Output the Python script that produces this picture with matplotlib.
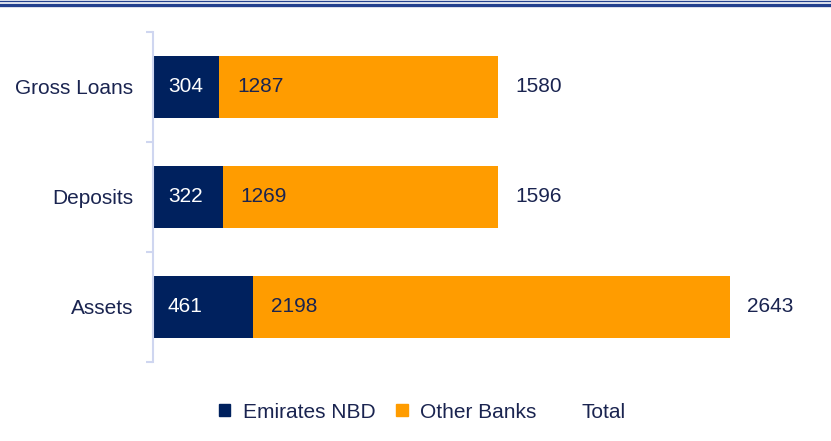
import matplotlib.pyplot as plt
from matplotlib.patches import Patch
from matplotlib.lines import Line2D

categories = ["Gross Loans", "Deposits", "Assets"]
enbd = [304, 322, 461]
other_banks = [1287, 1269, 2198]
total = [1580, 1596, 2643]

navy = "#00215e"
orange = "#ff9c00"
text_col = "#1a2450"
axis_col = "#cfd6f0"

plt.rcParams["font.family"] = ["Liberation Sans", "DejaVu Sans"]

fig = plt.figure(figsize=(8.31, 4.41), dpi=100)
ax = fig.add_axes([153 / 831, 79 / 441, 651 / 831, 330 / 441])

y = list(range(len(categories)))
ax.barh(y, enbd, height=0.56, color=navy)
ax.barh(y, other_banks, left=enbd, height=0.56, color=orange)

fs = 15
for i in y:
    ax.annotate(str(enbd[i]), (0, i), xytext=(15, 0), textcoords="offset pixels",
                va="center", ha="left", color="white", fontsize=fs)
    ax.annotate(str(other_banks[i]), (enbd[i], i), xytext=(18, 0), textcoords="offset pixels",
                va="center", ha="left", color=text_col, fontsize=fs)
    ax.annotate(str(total[i]), (enbd[i] + other_banks[i], i), xytext=(17, 0),
                textcoords="offset pixels", va="center", ha="left", color=text_col, fontsize=fs)

ax.set_xlim(0, 3000)
ax.set_ylim(2.5, -0.5)
ax.set_yticks(y)
ax.set_yticklabels(categories, fontsize=fs, color=text_col)
ax.tick_params(axis="y", which="major", length=0, pad=14)
ax.set_yticks([-0.5, 0.5, 1.5, 2.5], minor=True)
ax.tick_params(axis="y", which="minor", length=5, width=1.5, color=axis_col)
ax.set_xticks([])
for s in ["top", "right", "bottom"]:
    ax.spines[s].set_visible(False)
ax.spines["left"].set_color(axis_col)
ax.spines["left"].set_linewidth(1.5)

# header rules
fig.add_artist(Line2D([0, 1], [1 - 1 / 441, 1 - 1 / 441], color="#23408e", lw=1.0))
fig.add_artist(Line2D([0, 1], [1 - 4.8 / 441, 1 - 4.8 / 441], color="#23408e", lw=2.4))

handles = [Patch(color=navy), Patch(color=orange), Patch(color="none")]
fig.legend(handles, ["Emirates NBD", "Other Banks", "Total"], loc="center",
           bbox_to_anchor=(0.508, 29 / 441), ncol=3, frameon=False,
           fontsize=fs, labelcolor=text_col, handlelength=0.55, handleheight=0.55,
           handletextpad=0.6, columnspacing=1.0)

fig.savefig("out.png", dpi=100)
